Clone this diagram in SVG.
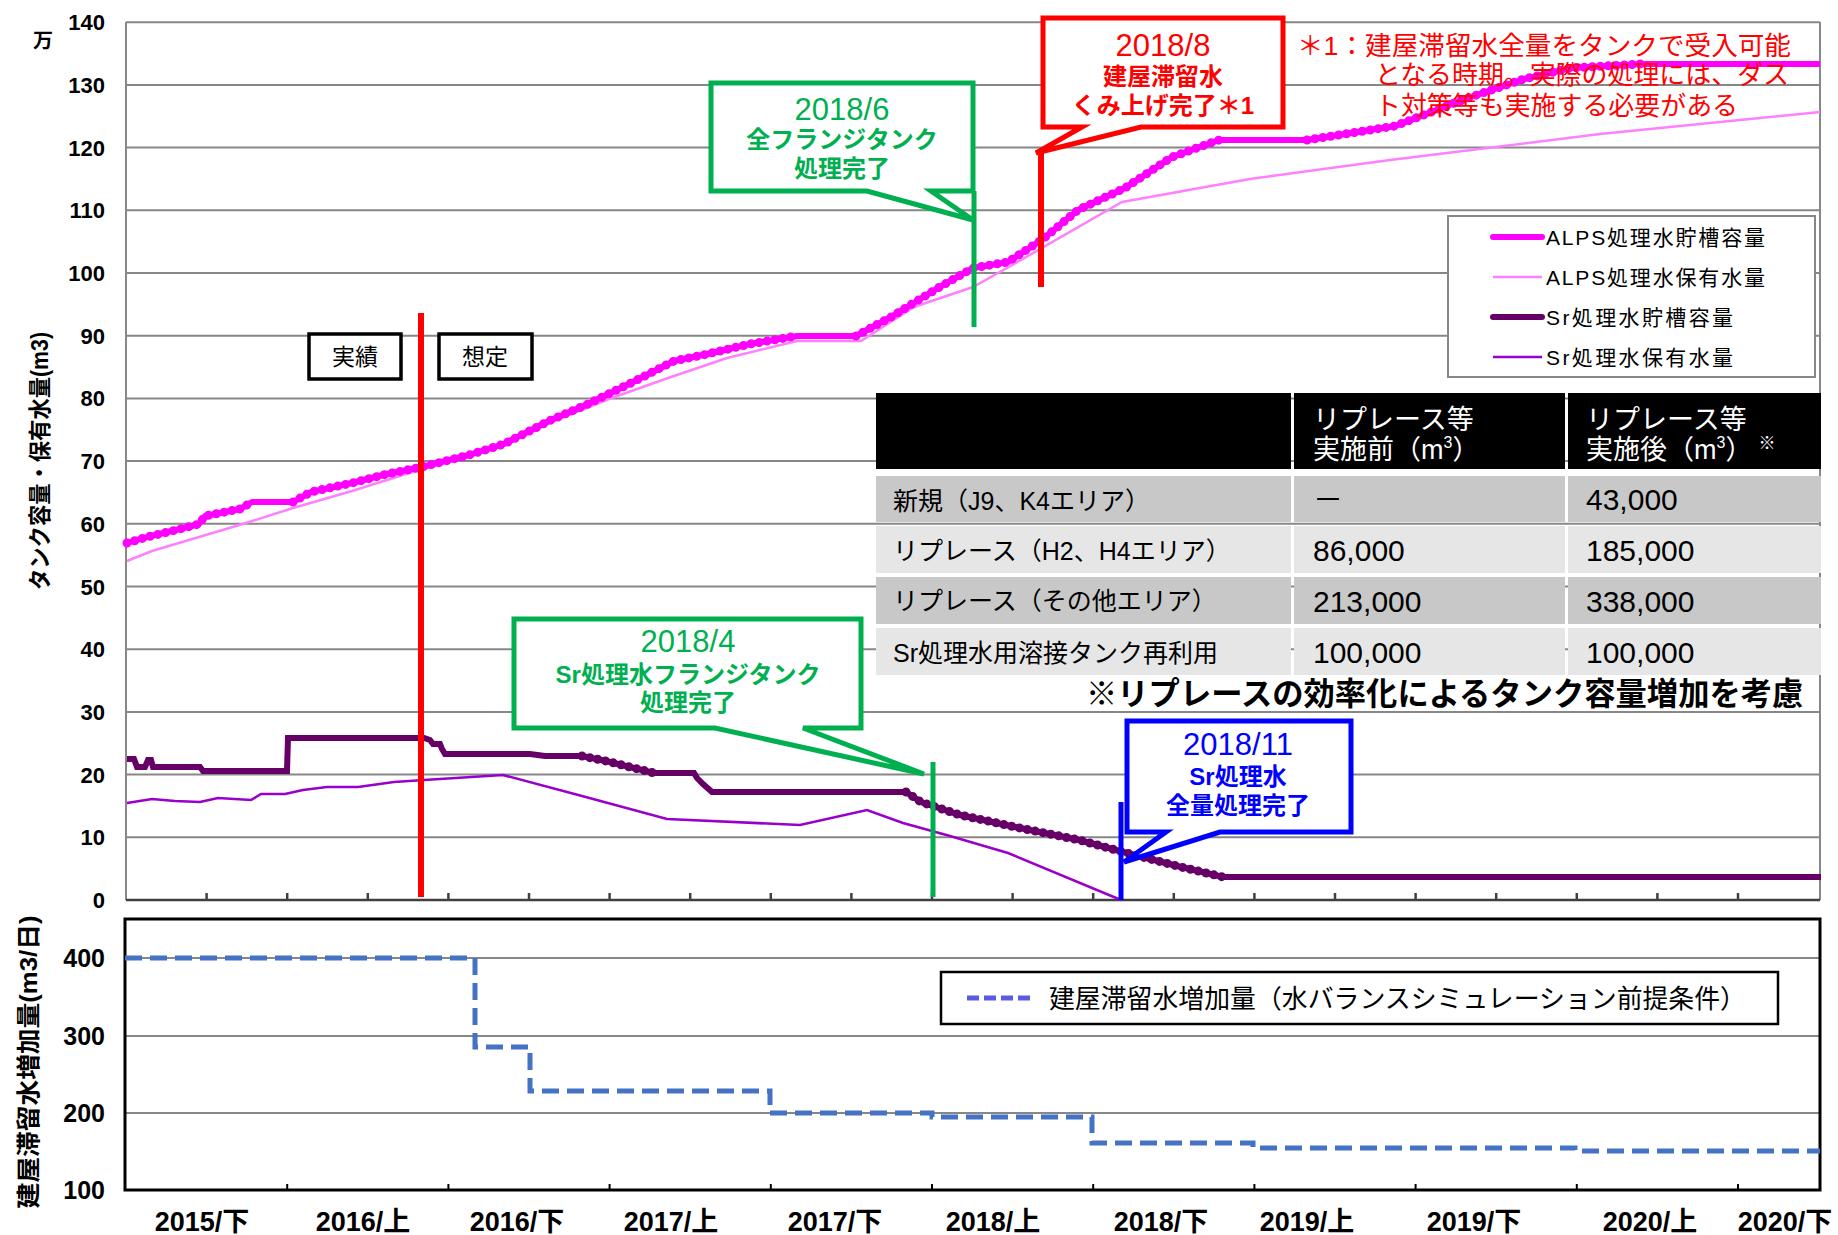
<svg xmlns="http://www.w3.org/2000/svg" width="1838" height="1235" viewBox="0 0 1838 1235">
<style>
.t{font-family:"Liberation Sans","Noto Sans CJK JP",sans-serif;}
.b{font-weight:bold;}
.grid{stroke:#878787;stroke-width:2;fill:none;}
.ax{stroke:#404040;stroke-width:2.5;fill:none;}
.ylab{font-size:22px;font-weight:bold;text-anchor:end;fill:#000;}
.ylab2{font-size:25px;font-weight:bold;text-anchor:end;fill:#000;}
.xlab{font-size:27px;font-weight:bold;text-anchor:middle;fill:#000;}
.leg{font-size:21px;fill:#000;}
.cell{font-size:25px;fill:#000;}
.num{font-size:30px;fill:#000;}
.hdr{font-size:27px;fill:#fff;}
.co{fill:#fff;stroke-width:5;stroke-linejoin:miter;}
.cd{font-size:31px;text-anchor:middle;}
.cj{font-size:24px;font-weight:bold;text-anchor:middle;}
.bead{fill:none;stroke-linecap:round;stroke-dasharray:0 8;stroke-width:9;}
</style>
<rect width="1838" height="1235" fill="#fff"/>

<g id="upper-axes">
  <g class="grid">
    <line x1="126" y1="22.2" x2="1820" y2="22.2"/>
    <line x1="126" y1="84.9" x2="1820" y2="84.9"/>
    <line x1="126" y1="147.6" x2="1820" y2="147.6"/>
    <line x1="126" y1="210.3" x2="1820" y2="210.3"/>
    <line x1="126" y1="273" x2="1820" y2="273"/>
    <line x1="126" y1="335.7" x2="1820" y2="335.7"/>
    <line x1="126" y1="398.4" x2="1820" y2="398.4"/>
    <line x1="126" y1="461.1" x2="1820" y2="461.1"/>
    <line x1="126" y1="523.8" x2="1820" y2="523.8"/>
    <line x1="126" y1="586.5" x2="1820" y2="586.5"/>
    <line x1="126" y1="649.2" x2="1820" y2="649.2"/>
    <line x1="126" y1="711.9" x2="1820" y2="711.9"/>
    <line x1="126" y1="774.6" x2="1820" y2="774.6"/>
    <line x1="126" y1="837.3" x2="1820" y2="837.3"/>
    <line x1="126" y1="22" x2="126" y2="900"/>
    <line x1="1820" y1="22" x2="1820" y2="900"/>
  </g>
  <line class="ax" x1="126" y1="900" x2="1820" y2="900"/>
  <path class="ax" stroke-width="2" d="M206.6,900v-7M287.2,900v-7M367.8,900v-7M448.4,900v-7M529,900v-7M609.6,900v-7M690.2,900v-7M770.8,900v-7M851.4,900v-7M932,900v-7M1012.6,900v-7M1093.2,900v-7M1173.8,900v-7M1254.4,900v-7M1335,900v-7M1415.6,900v-7M1496.2,900v-7M1576.8,900v-7M1657.4,900v-7M1738,900v-7"/>
  <g class="t">
    <text class="ylab" x="105" y="908">0</text>
    <text class="ylab" x="105" y="845.3">10</text>
    <text class="ylab" x="105" y="782.6">20</text>
    <text class="ylab" x="105" y="719.9">30</text>
    <text class="ylab" x="105" y="657.2">40</text>
    <text class="ylab" x="105" y="594.5">50</text>
    <text class="ylab" x="105" y="531.8">60</text>
    <text class="ylab" x="105" y="469.1">70</text>
    <text class="ylab" x="105" y="406.4">80</text>
    <text class="ylab" x="105" y="343.7">90</text>
    <text class="ylab" x="105" y="281">100</text>
    <text class="ylab" x="105" y="218.3">110</text>
    <text class="ylab" x="105" y="155.6">120</text>
    <text class="ylab" x="105" y="92.9">130</text>
    <text class="ylab" x="105" y="30.2">140</text>
    <text class="b" font-size="20" x="43" y="48" text-anchor="middle">万</text>
    <text class="b" font-size="23" text-anchor="middle" textLength="258" lengthAdjust="spacingAndGlyphs" transform="translate(48,461) rotate(-90)">タンク容量・保有水量(m3)</text>
  </g>
</g>

<g id="series">
  <polyline fill="none" stroke="#FF80FF" stroke-width="2.5" points="127,561 152,551 199,537 246,523 293,508 352,491 422,469 492,449 551,422 609,399 668,378 727,358 797,341 861,341 914,307 973,287 1014,264 1122,202 1250,179 1390,160 1600,134 1820,112"/>
  <polyline fill="none" stroke="#FF00FF" stroke-width="6" stroke-linejoin="round" points="127,543 147,537 176,530 199,524 205,516 240,509 252,502 293,502 311,492 352,483 387,474 422,467 469,455 504,444 551,420 586,405 633,382 674,361 703,355 750,344 797,336 856,336 891,317 938,288 973,268 1008,262 1043,239 1078,210 1125,188 1172,157 1219,140 1307,140 1395,126 1465,99 1524,79 1571,68 1641,64 1820,64"/>
  <polyline class="bead" stroke="#FF00FF" points="127,543 147,537 176,530 199,524 205,516 240,509 252,502"/>
  <polyline class="bead" stroke="#FF00FF" points="293,502 311,492 352,483 387,474 422,467 469,455 504,444 551,420 586,405 633,382 674,361 703,355 750,344 797,336"/>
  <polyline class="bead" stroke="#FF00FF" points="856,336 891,317 938,288 973,268 1008,262 1043,239 1078,210 1125,188 1172,157 1219,140"/>
  <polyline class="bead" stroke="#FF00FF" points="1307,140 1395,126 1465,99 1524,79 1571,68 1641,64"/>
  <polyline fill="none" stroke="#9900CC" stroke-width="2.5" points="127,803 152,799 175,801 200,802 218,798 251,800 261,794 285,794 303,790 327,787 358,787 394,782 424,780 503,775 582,796 667,819 800,825 867,810 903,823 950,836 1008,853 1121,900"/>
  <polyline fill="none" stroke="#660066" stroke-width="6" points="127,759 134,759 137,767 145,767 148,760 151,760 153,767 200,767 203,771 287,771 288,738 424,738 430,740 433,744 440,744 442,749 445,754 530,754 545,756 582,756 606,761 654,773 694,773 697,778 703,784 712,792 906,792 921,802 936,807 960,815 1020,828 1079,840 1127,853 1181,867 1223,877 1821,877"/>
  <polyline class="bead" stroke="#660066" points="582,756 606,761 654,773"/>
  <polyline class="bead" stroke="#660066" points="906,792 921,802 936,807 960,815 1020,828 1079,840 1127,853 1181,867 1223,877"/>
</g>

<g id="legend-upper">
  <rect x="1448" y="216" width="367" height="161" fill="#fff" stroke="#878787" stroke-width="2"/>
  <line x1="1493" y1="237" x2="1542" y2="237" stroke="#FF00FF" stroke-width="6" stroke-linecap="round"/>
  <line x1="1493" y1="277" x2="1542" y2="277" stroke="#FF80FF" stroke-width="2.5"/>
  <line x1="1493" y1="317" x2="1542" y2="317" stroke="#660066" stroke-width="6" stroke-linecap="round"/>
  <line x1="1493" y1="357" x2="1542" y2="357" stroke="#9900CC" stroke-width="2.5"/>
  <g class="t">
    <text class="leg" x="1546" y="245" textLength="219" lengthAdjust="spacing">ALPS処理水貯槽容量</text>
    <text class="leg" x="1546" y="285" textLength="219" lengthAdjust="spacing">ALPS処理水保有水量</text>
    <text class="leg" x="1546" y="325" textLength="187" lengthAdjust="spacing">Sr処理水貯槽容量</text>
    <text class="leg" x="1546" y="365" textLength="187" lengthAdjust="spacing">Sr処理水保有水量</text>
  </g>
</g>

<g id="table">
  <rect x="876" y="393" width="415" height="76" fill="#000"/>
  <rect x="1294" y="393" width="271" height="76" fill="#000"/>
  <rect x="1568" y="393" width="253" height="76" fill="#000"/>
  <rect x="876" y="476" width="415" height="46" fill="#C8C8C8"/>
  <rect x="1294" y="476" width="271" height="46" fill="#C8C8C8"/>
  <rect x="1568" y="476" width="253" height="46" fill="#C8C8C8"/>
  <rect x="876" y="526" width="415" height="47" fill="#E6E6E6"/>
  <rect x="1294" y="526" width="271" height="47" fill="#E6E6E6"/>
  <rect x="1568" y="526" width="253" height="47" fill="#E6E6E6"/>
  <rect x="876" y="577" width="415" height="47" fill="#C8C8C8"/>
  <rect x="1294" y="577" width="271" height="47" fill="#C8C8C8"/>
  <rect x="1568" y="577" width="253" height="47" fill="#C8C8C8"/>
  <rect x="876" y="628" width="415" height="47" fill="#E6E6E6"/>
  <rect x="1294" y="628" width="271" height="47" fill="#E6E6E6"/>
  <rect x="1568" y="628" width="253" height="47" fill="#E6E6E6"/>
  <g class="t">
    <text class="hdr" x="1313" y="429">リプレース等</text>
    <text class="hdr" x="1313" y="459">実施前（m<tspan font-size="16" dy="-11">3</tspan><tspan dy="11">）</tspan></text>
    <text class="hdr" x="1586" y="429">リプレース等</text>
    <text class="hdr" x="1586" y="459">実施後（m<tspan font-size="16" dy="-11">3</tspan><tspan dy="11">）</tspan><tspan font-size="17" dx="6" dy="-10">※</tspan></text>
    <text class="cell" x="893" y="510">新規（J9、K4エリア）</text>
    <text class="cell" font-size="24" x="893" y="560">リプレース（H2、H4エリア）</text>
    <text class="cell" x="893" y="610">リプレース（その他エリア）</text>
    <text class="cell" font-size="28" x="893" y="662">Sr処理水用溶接タンク再利用</text>
    <text class="num" x="1313" y="510">－</text>
    <text class="num" x="1313" y="561">86,000</text>
    <text class="num" x="1313" y="612">213,000</text>
    <text class="num" x="1313" y="663">100,000</text>
    <text class="num" x="1586" y="510">43,000</text>
    <text class="num" x="1586" y="561">185,000</text>
    <text class="num" x="1586" y="612">338,000</text>
    <text class="num" x="1586" y="663">100,000</text>
    <text class="b" font-size="31.3" x="1086" y="705">※リプレースの効率化によるタンク容量増加を考慮</text>
  </g>
</g>

<g id="markers">
  <line x1="421" y1="313" x2="421" y2="897" stroke="#FF0000" stroke-width="6"/>
  <line x1="974" y1="191" x2="974" y2="327" stroke="#00B050" stroke-width="5"/>
  <line x1="1041" y1="153" x2="1041" y2="287" stroke="#FF0000" stroke-width="6"/>
  <line x1="933" y1="762" x2="933" y2="897" stroke="#00B050" stroke-width="5"/>
  <line x1="1121" y1="802" x2="1121" y2="900" stroke="#0000FF" stroke-width="5"/>
</g>

<g id="box-jisseki">
  <rect x="309" y="334" width="92" height="45" fill="#fff" stroke="#000" stroke-width="3.5"/>
  <text class="t" font-size="23" x="355" y="365" text-anchor="middle">実績</text>
</g>
<g id="box-soutei">
  <rect x="439" y="334" width="93" height="45" fill="#fff" stroke="#000" stroke-width="3.5"/>
  <text class="t" font-size="23" x="485" y="365" text-anchor="middle">想定</text>
</g>

<g id="callout-2018-6">
  <polygon class="co" stroke="#00B050" points="711,83 973,83 973,191 931,191 973,220 867,191 711,191"/>
  <g class="t" fill="#00B050">
    <text class="cd" x="842" y="120">2018/6</text>
    <text class="cj" x="842" y="148">全フランジタンク</text>
    <text class="cj" x="842" y="177">処理完了</text>
  </g>
</g>

<g id="callout-2018-8">
  <polygon class="co" stroke="#FF0000" points="1043,18 1283,18 1283,127 1141,127 1036,153 1082,127 1043,127"/>
  <g class="t" fill="#FF0000">
    <text class="cd" x="1163" y="56">2018/8</text>
    <text class="cj" x="1163" y="85">建屋滞留水</text>
    <text class="cj" x="1163" y="114">くみ上げ完了＊1</text>
  </g>
</g>

<g id="note-1" class="t" fill="#FF0000" font-size="26">
  <text x="1297" y="55" textLength="494" lengthAdjust="spacingAndGlyphs">＊1：建屋滞留水全量をタンクで受入可能</text>
  <text x="1375" y="84" textLength="414" lengthAdjust="spacingAndGlyphs">となる時期。実際の処理には、ダス</text>
  <text x="1375" y="115" textLength="363" lengthAdjust="spacingAndGlyphs">ト対策等も実施する必要がある</text>
</g>

<g id="callout-2018-4">
  <polygon class="co" stroke="#00B050" points="514,619 861,619 861,728 803,728 924,774 715,728 514,728"/>
  <g class="t" fill="#00B050">
    <text class="cd" x="688" y="652">2018/4</text>
    <text class="cj" x="688" y="683">Sr処理水フランジタンク</text>
    <text class="cj" x="688" y="711">処理完了</text>
  </g>
</g>

<g id="callout-2018-11">
  <polygon class="co" stroke="#0000FF" points="1127,721 1351,721 1351,832 1220,832 1124,862 1166,832 1127,832"/>
  <g class="t" fill="#0000FF">
    <text class="cd" x="1238" y="755">2018/11</text>
    <text class="cj" x="1238" y="785">Sr処理水</text>
    <text class="cj" x="1238" y="814">全量処理完了</text>
  </g>
</g>

<g id="lower-chart">
  <g class="grid" stroke="#505050">
    <line x1="125" y1="958" x2="1820" y2="958"/>
    <line x1="125" y1="1036" x2="1820" y2="1036"/>
    <line x1="125" y1="1113" x2="1820" y2="1113"/>
  </g>
  <rect x="125" y="919" width="1695" height="271" fill="none" stroke="#000" stroke-width="3"/>
  <path stroke="#000" stroke-width="2" d="M287.2,1190v-6M448.4,1190v-6M609.6,1190v-6M770.8,1190v-6M932,1190v-6M1093.2,1190v-6M1254.4,1190v-6M1415.6,1190v-6M1576.8,1190v-6M1738,1190v-6"/>
  <path fill="none" stroke="#4472C4" stroke-width="5" stroke-dasharray="17 8" d="M125,958 H475 V1047 H530 V1091 H770 V1113 H932 V1117 H1092 V1143 H1253 V1148 H1575 V1151 H1820"/>
  <g class="t">
    <text class="ylab2" x="105" y="967">400</text>
    <text class="ylab2" x="105" y="1045">300</text>
    <text class="ylab2" x="105" y="1122">200</text>
    <text class="ylab2" x="105" y="1199">100</text>
    <text class="b" font-size="24" text-anchor="middle" textLength="293" lengthAdjust="spacingAndGlyphs" transform="translate(37,1062) rotate(-90)">建屋滞留水増加量(m3/日)</text>
    <text class="xlab" x="202" y="1231">2015/下</text>
    <text class="xlab" x="363" y="1231">2016/上</text>
    <text class="xlab" x="517" y="1231">2016/下</text>
    <text class="xlab" x="671" y="1231">2017/上</text>
    <text class="xlab" x="835" y="1231">2017/下</text>
    <text class="xlab" x="993" y="1231">2018/上</text>
    <text class="xlab" x="1161" y="1231">2018/下</text>
    <text class="xlab" x="1307" y="1231">2019/上</text>
    <text class="xlab" x="1474" y="1231">2019/下</text>
    <text class="xlab" x="1650" y="1231">2020/上</text>
    <text class="xlab" x="1785" y="1231">2020/下</text>
  </g>
</g>

<g id="legend-lower">
  <rect x="941" y="972" width="837" height="52" fill="#fff" stroke="#000" stroke-width="2.5"/>
  <line x1="967" y1="998" x2="1031" y2="998" stroke="#5B5BE0" stroke-width="5" stroke-dasharray="12 5"/>
  <text class="t" font-size="26" x="1049" y="1008" textLength="697" lengthAdjust="spacingAndGlyphs">建屋滞留水増加量（水バランスシミュレーション前提条件）</text>
</g>
</svg>
